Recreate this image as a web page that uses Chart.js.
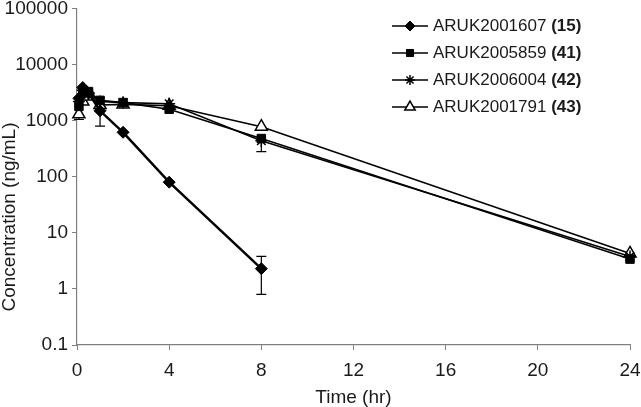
<!DOCTYPE html>
<html>
<head>
<meta charset="utf-8">
<script src="https://cdn.jsdelivr.net/npm/chart.js@4/dist/chart.umd.min.js"></script>
<style>
  html, body { margin: 0; padding: 0; background: #fff; }
  #wrap { width: 641px; height: 407px; }
</style>
</head>
<body>
<div id="wrap"><canvas id="pkChart" width="641" height="407"></canvas></div>
<script>
// Données
const times = [0.083, 0.25, 0.5, 1, 2, 4, 8, 24];
const times15 = [0.083, 0.25, 0.5, 1, 2, 4, 8];

const conc15 = [2500, 3900, 3100, 1500, 620, 80, 2.3];
const conc41 = [1800, 3200, 3300, 2300, 2100, 1600, 480, 3.4];
const conc42 = [2200, 3500, 3000, 2200, 2100, 2000, 440, 3.8];
const conc43 = [1300, 2200, 2700, 1900, 1950, 1850, 780, 4.3];

// barres d'erreur (null = pas de barre visible)
const err15Lo = [null, null, null, 800, null, null, 0.8];
const err15Hi = [null, null, null, 1500, null, null, 3.8];
const err41Lo = [null, null, null, null, null, null, 280, null];
const err41Hi = [null, null, null, null, null, null, 480, null];
const err43Lo = [1050, null, null, null, null, null, null, null];
const err43Hi = [1300, null, null, null, null, null, null, null];

const seriesNames = ['ARUK2001607', 'ARUK2005859', 'ARUK2006004', 'ARUK2001791'];
const seriesIds = ['(15)', '(41)', '(42)', '(43)'];

const yTicks = [0.1, 1, 10, 100, 1000, 10000, 100000];
const xTicks = [0, 4, 8, 12, 16, 20, 24];

const FONT = "'Liberation Sans', Arial, sans-serif";
const INK = '#1a1a1a';
const AXIS = '#808080';

const toPoints = (xs, ys) => xs.map((x, i) => ({ x: x, y: ys[i] }));

const datasets = [
    { label: seriesNames[0], data: toPoints(times15, conc15), pointStyle: 'rectRot', pointRadius: 6,
      backgroundColor: '#000', borderColor: '#000', borderWidth: 2.5, pointBorderWidth: 1,
      errLo: err15Lo, errHi: err15Hi },
    { label: seriesNames[1], data: toPoints(times, conc41), pointStyle: 'rect', pointRadius: 6,
      backgroundColor: '#000', borderColor: '#000', borderWidth: 1.6, pointBorderWidth: 1,
      errLo: err41Lo, errHi: err41Hi },
    { label: seriesNames[2], data: toPoints(times, conc42), pointStyle: 'star', pointRadius: 6,
      backgroundColor: '#000', borderColor: '#000', borderWidth: 1.6, pointBorderWidth: 1.5 },
    { label: seriesNames[3], data: toPoints(times, conc43), pointStyle: 'triangle', pointRadius: 7,
      backgroundColor: '#fff', pointBackgroundColor: '#fff', borderColor: '#000', borderWidth: 1.6, pointBorderWidth: 1.5,
      errLo: err43Lo, errHi: err43Hi }
];

// Barres d'erreur dessinées sous les marqueurs
const errorBars = {
    id: 'errorBars',
    beforeDatasetsDraw(chart) {
        const ctx = chart.ctx, xs = chart.scales.x, ys = chart.scales.y;
        ctx.save();
        ctx.strokeStyle = '#000';
        ctx.lineWidth = 1.2;
        chart.data.datasets.forEach(ds => {
            if (!ds.errLo) return;
            ds.data.forEach((p, i) => {
                if (ds.errLo[i] == null) return;
                const px = xs.getPixelForValue(p.x);
                const yLo = ys.getPixelForValue(ds.errLo[i]);
                const yHi = ys.getPixelForValue(ds.errHi[i]);
                ctx.beginPath();
                ctx.moveTo(px, yLo); ctx.lineTo(px, yHi);
                ctx.moveTo(px - 5, yLo); ctx.lineTo(px + 5, yLo);
                if (ds.errHi[i] > p.y) { ctx.moveTo(px - 5, yHi); ctx.lineTo(px + 5, yHi); }
                ctx.stroke();
            });
        });
        ctx.restore();
    }
};

// Légende avec numéro en gras
const customLegend = {
    id: 'customLegend',
    afterDraw(chart) {
        const ctx = chart.ctx;
        ctx.save();
        chart.data.datasets.forEach((ds, i) => {
            const y = 26 + i * 27;
            ctx.strokeStyle = '#000';
            ctx.lineWidth = 1.5;
            ctx.beginPath();
            ctx.moveTo(392, y); ctx.lineTo(428, y);
            ctx.stroke();
            ctx.fillStyle = ds.pointBackgroundColor || ds.backgroundColor;
            ctx.lineWidth = ds.pointBorderWidth;
            Chart.helpers.drawPoint(ctx, {
                pointStyle: ds.pointStyle, radius: ds.pointRadius - 1, borderWidth: ds.pointBorderWidth
            }, 410, y);
            ctx.fillStyle = INK;
            ctx.textBaseline = 'middle';
            ctx.font = '17px ' + FONT;
            const name = seriesNames[i] + ' ';
            ctx.fillText(name, 433, y);
            const w = ctx.measureText(name).width;
            ctx.font = 'bold 17px ' + FONT;
            ctx.fillText(seriesIds[i], 433 + w, y);
        });
        ctx.restore();
    }
};

// Titre de l'axe Y
const yTitle = {
    id: 'yTitle',
    afterDraw(chart) {
        const ctx = chart.ctx;
        ctx.save();
        ctx.translate(10, 217);
        ctx.rotate(-Math.PI / 2);
        ctx.fillStyle = INK;
        ctx.font = '19px ' + FONT;
        ctx.textAlign = 'center';
        ctx.textBaseline = 'middle';
        ctx.fillText('Concentration (ng/mL)', 0, 0);
        ctx.restore();
    }
};

new Chart(document.getElementById('pkChart'), {
    type: 'scatter',
    data: { datasets: datasets.map(ds => Object.assign({ showLine: true, pointHoverRadius: ds.pointRadius, clip: false }, ds)) },
    options: {
        responsive: false,
        animation: false,
        layout: { padding: { top: 6, right: 11, left: 0, bottom: 0 } },
        plugins: { legend: { display: false }, tooltip: { enabled: false } },
        scales: {
            x: {
                type: 'linear', min: 0, max: 24,
                afterBuildTicks: s => { s.ticks = xTicks.map(v => ({ value: v })); },
                afterFit: s => { s.height = 62; s.paddingLeft = 0; s.paddingRight = 0; },
                grid: { drawOnChartArea: false, drawTicks: true, tickLength: 5, color: AXIS },
                border: { color: AXIS, width: 1.2 },
                ticks: { color: INK, font: { family: FONT, size: 19 }, padding: 9, maxRotation: 0 },
                title: { display: true, text: 'Time (hr)', color: INK, font: { family: FONT, size: 19, lineHeight: 1 }, padding: { top: 0, bottom: 0 } }
            },
            y: {
                type: 'logarithmic', min: 0.1, max: 100000,
                afterBuildTicks: s => { s.ticks = yTicks.map(v => ({ value: v })); },
                afterFit: s => { s.width = 77; s.paddingTop = 0; s.paddingBottom = 0; },
                grid: { drawOnChartArea: false, drawTicks: true, tickLength: 5, color: AXIS },
                border: { color: AXIS, width: 1.2 },
                ticks: { color: INK, font: { family: FONT, size: 19 }, padding: 4, callback: v => String(v) }
            }
        }
    },
    plugins: [errorBars, customLegend, yTitle]
});
</script>
</body>
</html>
